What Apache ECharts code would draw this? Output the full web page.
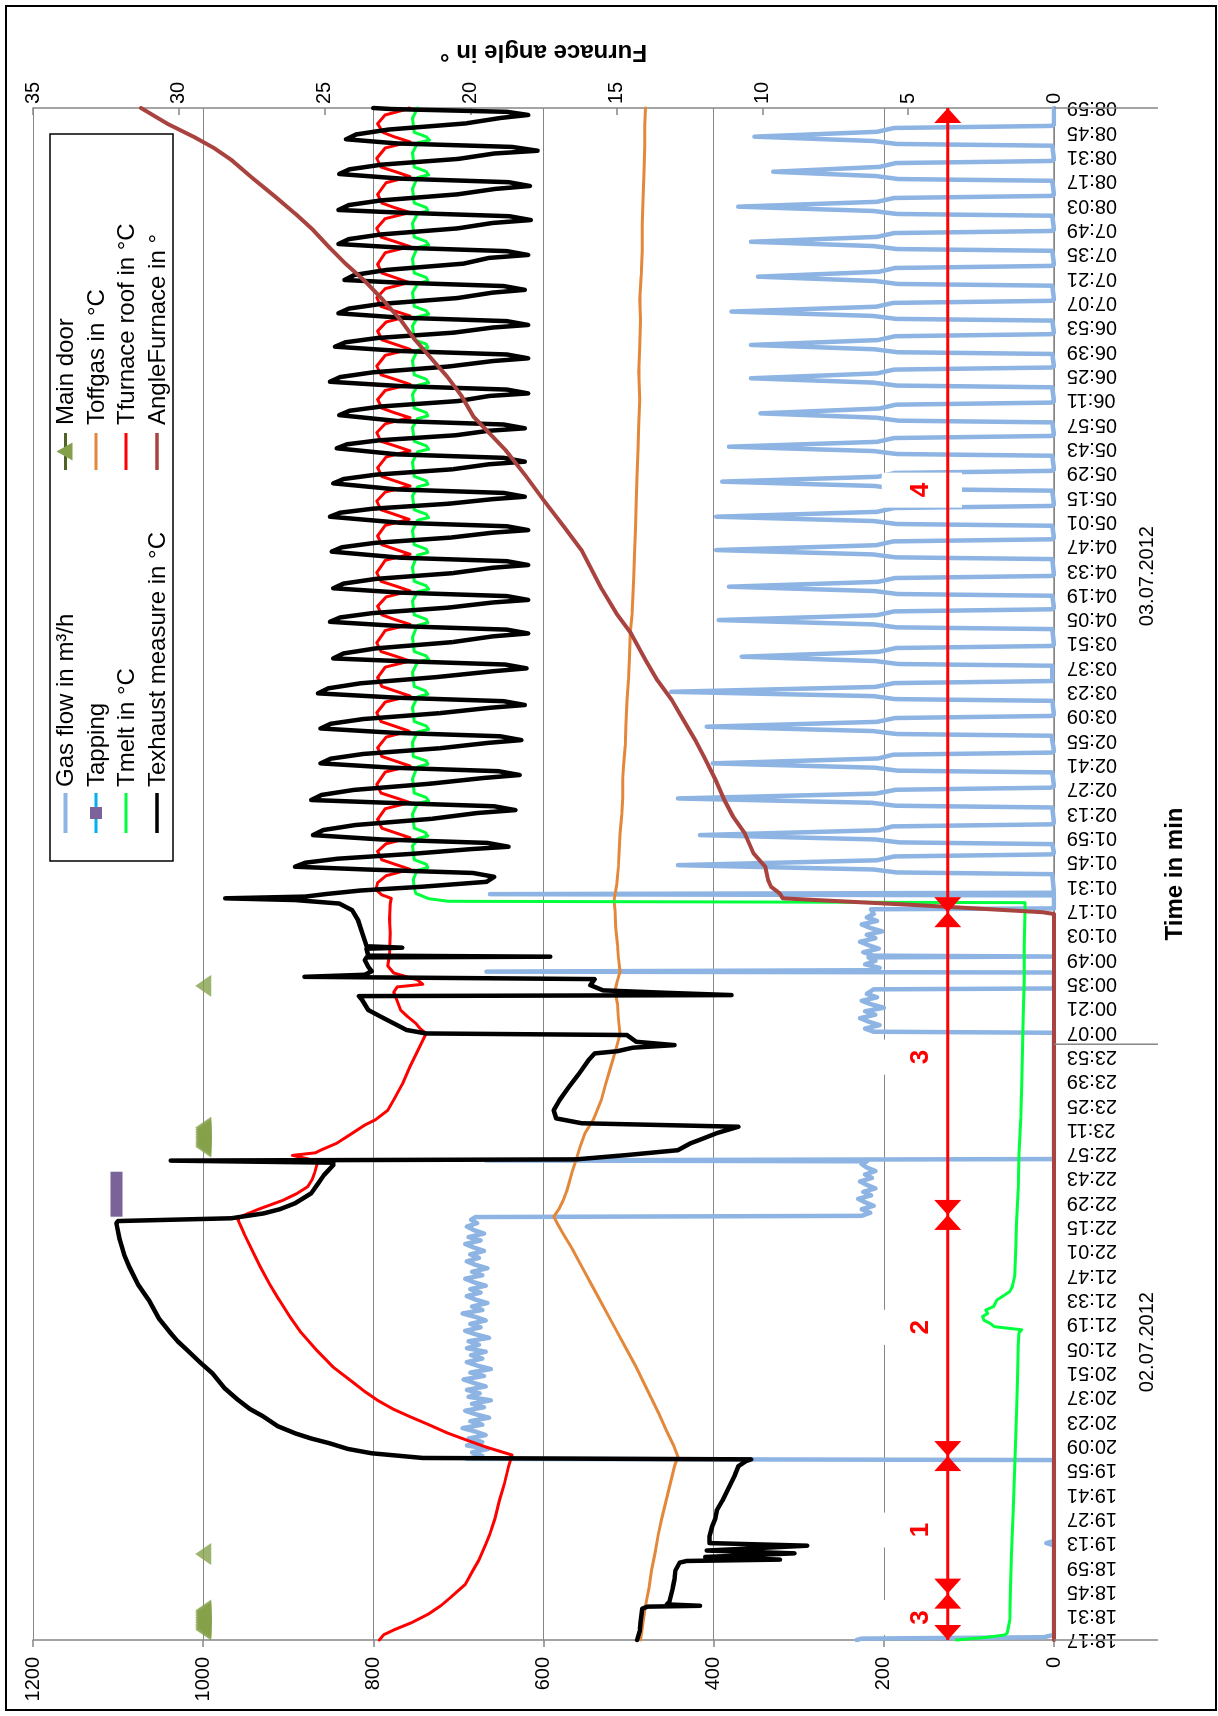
<!DOCTYPE html>
<html><head><meta charset="utf-8">
<script src="https://cdn.jsdelivr.net/npm/echarts/dist/echarts.min.js"></script>
<style>
html,body{margin:0;padding:0;background:#fff;width:1218px;height:1716px;overflow:hidden}
#chart{position:absolute;left:0;top:0;width:1716px;height:1218px;transform-origin:0 0;transform:translate(0px,1716px) rotate(-90deg);}
</style></head>
<body><div id="chart"></div>
<script>
const timeLabels = ['18:17','18:31','18:45','18:59','19:13','19:27','19:41','19:55','20:09','20:23','20:37','20:51','21:05','21:19','21:33','21:47','22:01','22:15','22:29','22:43','22:57','23:11','23:25','23:39','23:53','00:07','00:21','00:35','00:49','01:03','01:17','01:31','01:45','01:59','02:13','02:27','02:41','02:55','03:09','03:23','03:37','03:51','04:05','04:19','04:33','04:47','05:01','05:15','05:29','05:43','05:57','06:11','06:25','06:39','06:53','07:07','07:21','07:35','07:49','08:03','08:17','08:31','08:45','08:59'];
const valueTicks = [0, 200, 400, 600, 800, 1000, 1200];
const angleTicks = [0, 5, 10, 15, 20, 25, 30, 35];

// time in minutes after 18:17
const gasFlow = [[0,232],[0.8,226],[1.6,12],[3,0],[54.5,0],[55.8,9],[57,0],[103.6,0],[104.3,690],[106,672],[108,684],[110,665],[112,690],[114,672],[116,688],[118,668],[120,680],[122,695],[124,672],[126,686],[128,664],[130,680],[132,692],[134,670],[136,684],[138,662],[140,688],[142,675],[144,690],[146,668],[148,682],[150,694],[152,670],[154,686],[156,662],[158,678],[160,690],[162,672],[164,685],[166,668],[168,690],[170,676],[172,688],[174,664],[176,680],[178,692],[180,674],[182,686],[184,668],[186,680],[188,695],[190,672],[192,684],[194,666],[196,680],[198,690],[200,674],[202,686],[204,668],[206,682],[208,692],[210,672],[212,684],[214,666],[216,680],[218,690],[220,676],[222,686],[224,670],[226,682],[228,692],[230,674],[232,688],[234,670],[236,682],[238,690],[240,678],[242,685],[243.5,680],[244.2,226],[246,216],[248,226],[250,212],[252,222],[254,230],[256,215],[258,224],[260,210],[262,220],[264,228],[266,214],[268,222],[270,210],[272,220],[274,226],[275.6,220],[276.1,668],[276.9,0],[349.6,0],[350.2,212],[352,222],[354,205],[356,218],[358,228],[360,210],[362,222],[364,200],[366,215],[368,226],[370,208],[372,220],[374.6,212],[375.1,0],[384.3,0],[384.8,667],[385.6,215],[387,205],[389,222],[391,210],[393,218],[393.5,0],[394,212],[396,224],[398,206],[400,218],[402,228],[404,210],[406,220],[408,202],[410,216],[412,226],[414,208],[416,220],[418,212],[420.7,215],[421.2,0],[428.7,0],[429.4,663],[430.2,0],
[440.9,2],[441.9,185],[443.6,212],[446.1,442],[448.9,208],[451.1,188],[452.3,3],[453.1,0],
[458.2,2],[459.2,182],[460.9,210],[463.4,416],[466.2,206],[468.4,190],[469.6,3],[470.4,0],
[479.3,2],[480.3,186],[482,214],[484.5,442],[487.3,209],[489.5,186],[490.7,4],[491.5,0],
[499.5,2],[500.5,184],[502.2,211],[504.7,401],[507.5,207],[509.7,189],[510.9,3],[511.7,0],
[520.6,3],[521.6,185],[523.3,213],[525.8,408],[528.6,208],[530.8,187],[532,3],[532.8,0],
[540.7,2],[541.7,187],[543.4,212],[545.9,450],[548.7,210],[550.9,188],[552.1,2],[552.9,0],
[560.9,2],[561.9,183],[563.6,210],[566.1,367],[568.9,206],[571.1,186],[572.3,3],[573.1,0],
[582,2],[583,185],[584.7,212],[587.2,394],[590,208],[592.2,188],[593.4,3],[594.2,0],
[601.2,2],[602.2,184],[603.9,211],[606.4,382],[609.2,207],[611.4,187],[612.6,3],[613.4,0],
[622.3,2],[623.3,186],[625,213],[627.5,397],[630.3,209],[632.5,189],[633.7,3],[634.5,0],
[641.5,2],[642.5,185],[644.2,212],[646.7,397],[649.5,208],[651.7,188],[652.9,3],[653.7,0],
[661.7,2],[662.7,184],[664.4,211],[666.9,390],[669.7,207],[671.9,187],[673.1,3],[673.9,0],
[681.8,2],[682.8,185],[684.5,212],[687,382],[689.8,208],[692,188],[693.2,3],[694,0],
[701,2],[702,183],[703.7,209],[706.2,345],[709,205],[711.2,186],[712.4,3],[713.2,0],
[721.2,2],[722.2,185],[723.9,212],[726.4,356],[729.2,208],[731.4,188],[732.6,3],[733.4,0],
[740.4,2],[741.4,184],[743.1,211],[745.6,356],[748.4,207],[750.6,187],[751.8,3],[752.6,0],
[759.6,2],[760.6,186],[762.3,213],[764.8,379],[767.6,209],[769.8,189],[771,3],[771.8,0],
[779.7,2],[780.7,184],[782.4,210],[784.9,348],[787.7,206],[789.9,187],[791.1,3],[791.9,0],
[799.8,2],[800.8,185],[802.5,212],[805,356],[807.8,208],[810,188],[811.2,3],[812,0],
[820,2],[821,185],[822.7,212],[825.2,371],[828,208],[830.2,188],[831.4,3],[832.2,0],
[840.1,2],[841.1,183],[842.8,209],[845.3,330],[848.1,205],[850.3,186],[851.5,3],[852.3,0],
[860.3,2],[861.3,185],[863,212],[865.5,352],[868.3,208],[870.5,188],[871.7,3],[872.5,0],[882,0]];

const tapping = [[243.7,1102],[269.6,1102]];

const tmelt = [[0,115],[1.5,80],[2.9,58],[4,55],[11.5,52],[30,51],[50,50],[75,48],[100,46],[130,44],[150,43],[170,42],[177,41],[178.6,38],[180.4,70],[182.3,75],[184,82],[186.2,84],[188,78],[190,80],[192,71],[194,69],[195.8,67],[198,60],[200.6,52],[203.4,49],[210,46],[225,45],[240,44],[260,42],[280,41],[300,39],[320,38],[340,37],[360,36],[380,35],[400,35],[420,34],[424.5,34],[425.3,712],[426.8,735],[429.8,750],[433,752],[438,753],[441.5,750],
[443.2,748],[444.7,736],[446.7,738],[449.2,752],[457.2,754],[459.4,750],
[461.4,748],[462.9,736],[464.9,739],[467.4,752],[475.4,754],[479.6,750],
[481.6,748],[483.1,735],[485.1,738],[487.6,752],[495.6,754],[500.7,750],
[502.7,748],[504.2,736],[506.2,738],[508.7,753],[516.7,754],[520.8,750],
[522.8,748],[524.3,735],[526.3,738],[528.8,752],[536.8,754],[541,750],
[543,748],[544.5,736],[546.5,739],[549,752],[557,754],[561.1,750],
[563.1,748],[564.6,735],[566.6,738],[569.1,752],[577.1,754],[582.2,750],
[584.2,748],[585.7,736],[587.7,738],[590.2,752],[598.2,754],[601.5,750],
[603.5,748],[605,735],[607,738],[609.5,752],[617.5,754],[622.6,750],
[624.6,748],[626.1,736],[628.1,738],[630.6,752],[638.6,754],[642.7,750],
[644.7,748],[646.2,735],[648.2,738],[650.7,752],[658.7,754],[661.9,750],
[663.9,748],[665.4,736],[667.4,738],[669.9,752],[677.9,754],[682.1,750],
[684.1,748],[685.6,735],[687.6,738],[690.1,752],[698.1,754],[701.2,750],
[703.2,748],[704.7,736],[706.7,738],[709.2,752],[717.2,754],[720.4,750],
[722.4,748],[723.9,735],[725.9,738],[728.4,752],[736.4,754],[740.6,750],
[742.6,748],[744.1,736],[746.1,738],[748.6,752],[756.6,754],[759.8,750],
[761.8,748],[763.3,735],[765.3,738],[767.8,752],[775.8,754],[779,750],
[781,748],[782.5,736],[784.5,738],[787,752],[795,754],[799.7,750],
[801.7,748],[803.2,735],[805.2,738],[807.7,752],[815.7,754],[819.3,750],
[821.3,748],[822.8,736],[824.8,738],[827.3,752],[835.3,754],[840,750],
[842,748],[843.5,735],[845.5,738],[848,752],[856,754],[860,750],
[862,748],[863.5,734],[865.5,738],[868,752],[876,754],[880,750],[882,748]];

const texhaust = [[0,490],[5,487],[10,486],[18,484],[19.2,478],[19.7,416],[20.5,455],[22,452],[26,450],[30,448],[35,446],[40,445],[44.5,440],[45.5,432],[46.3,322],[47.8,410],[49.9,305],[51.5,408],[54.3,290],[55.8,405],[59.5,405],[65,402],[70,398],[75,396],[80,390],[85,385],[90,380],[95,375],[100,371],[103,362],[104,356],[104.8,742],[107.5,802],[110,830],[113.2,851],[116,873],[119,892],[123,912],[128.6,929],[133,945],[138.2,959],[145,975],[153.5,989],[160,1004],[167,1019],[172,1030],[176.6,1038],[185,1052],[195.8,1064],[205,1077],[215,1087],[222,1093],[230.3,1098],[239.9,1102],[241.2,1100],[242.8,967],[245.6,929],[248,910],[251.4,892],[257.2,873],[262,866],[267.7,858],[273.5,847],[274.8,847],[276,1038],[276.7,562],[279.2,502],[282,442],[286,427],[288.8,412],[291.7,397],[295.5,371],[297.5,555],[300.3,585],[305,588],[310.9,581],[318.5,570],[326.2,558],[333.9,547],[337.7,540],[339,513],[341,495],[342.5,446],[344.4,491],[348.3,502],[349.2,738],[351.2,761],[355,776],[358.8,791],[362.7,806],[368.4,813],[370.7,817],[371.3,379],[372.5,450],[374,530],[377,545],[380.5,540],[381.8,881],[383,810],[385,802],[387.6,806],[391.5,810],[393,808],[393.4,592],[394,806],[398,808],[398.6,766],[399.4,808],[406.8,813],[414.5,818],[420.2,825],[424,840],[426,892],[427,974],[428,880],[429.5,855],[431.5,815],[433.7,742],[436.5,667],[439.4,658],
[441.6,683],[443.6,808],[445.2,892],[447.5,880],[449.8,842],[452.7,752],[455.3,686],
[456.7,641],[458.9,666],[460.9,791],[463.4,871],[466.3,859],[469.2,821],[472.8,731],[476.1,678],
[477.8,633],[480.0,658],[482.0,783],[483.6,873],[486.5,861],[489.4,823],[493.0,733],[496.3,670],
[498.0,628],[500.2,653],[502.2,778],[504.7,862],[507.4,850],[510.1,812],[513.4,722],[516.5,665],
[518.1,626],[520.3,651],[522.3,776],[524.8,862],[527.5,850],[530.2,812],[533.6,722],[536.7,663],
[538.3,622],[540.5,647],[542.5,772],[545.0,865],[547.9,853],[550.8,815],[554.4,725],[557.7,660],
[559.4,620],[561.6,645],[563.6,770],[565.1,847],[568.0,835],[570.9,797],[574.5,707],[577.8,660],
[579.5,618],[581.7,643],[583.7,768],[586.2,851],[588.7,839],[591.2,801],[594.4,711],[597.3,660],
[598.8,618],[601.0,643],[603.0,768],[605.5,847],[608.2,835],[610.9,797],[614.2,707],[617.3,660],
[618.9,618],[621.1,643],[623.1,768],[626.6,849],[629.1,837],[631.6,799],[634.7,709],[637.5,660],
[639.0,618],[641.2,643],[643.2,768],[646.7,851],[649.0,839],[651.3,801],[654.2,711],[656.8,660],
[658.2,622],[660.4,647],[662.4,772],[665.9,847],[668.4,835],[670.9,797],[674.0,707],[676.9,664],
[678.4,622],[680.6,647],[682.6,772],[686.1,843],[688.4,831],[690.7,793],[693.6,703],[696.2,664],
[697.6,622],[699.8,647],[701.8,772],[705.2,840],[707.7,828],[710.2,790],[713.3,700],[716.2,664],
[717.7,618],[719.9,643],[721.9,768],[724.4,851],[727.1,839],[729.8,801],[733.2,711],[736.3,660],
[737.9,618],[740.1,643],[742.1,768],[744.6,845],[747.1,833],[749.6,795],[752.7,705],[755.6,660],
[757.1,618],[759.3,643],[761.3,768],[763.8,841],[766.5,829],[769.2,791],[772.6,701],[775.7,660],
[777.3,622],[779.5,647],[781.5,772],[783.0,834],[785.9,822],[788.8,784],[792.4,694],[795.7,664],
[797.4,618],[799.6,643],[801.6,768],[803.7,841],[806.5,829],[809.2,791],[812.7,701],[815.8,660],
[817.5,615],[819.7,640],[821.7,765],[823.3,841],[826.1,829],[828.8,791],[832.3,701],[835.4,657],
[837.1,616],[839.3,641],[841.3,766],[844.0,840],[846.7,828],[849.4,790],[852.7,700],[855.8,658],
[857.4,607],[859.6,637],[861.6,772],[864.0,832],[866.8,820],[869.6,782],[873.1,692],[876.3,650],
[878.0,618],[879.8,643],[881.4,779],[882,800]];

const mainDoor = [[6,1000],[7,1000],[8,1000],[9,1000],[10,1000],[11,1000],[12,1000],[13,1000],[14,1000],[15,1000],[16,1000],[17,1000],[49.5,1000],[284,1000],[285,1000],[286,1000],[287,1000],[288,1000],[289,1000],[290,1000],[291,1000],[292,1000],[293,1000],[294,1000],[295,1000],[376.6,1000]];

const toffgas = [[0,486],[10,483],[20,480],[30,476],[40,473],[50,469],[61,465],[70,461],[80,456],[90,451],[100,446],[105.6,442],[112,447],[120,455],[130,464],[138,472],[148,482],[158,492],[167,502],[177,513],[186,523],[196,534],[205,544],[215,555],[225,566],[234,577],[240,584],[243.7,588],[248,582],[253,577],[258,573],[263,570],[270,566],[276,562],[284,557],[292,551],[300,541],[306,536],[311,532],[320,527],[330,521],[340,515],[349,510],[358,512],[366,513],[374,516],[378,514],[385,510],[393,512],[400,513],[410,515],[420,516],[426,517],[435,514],[445,512],[455,511],[464,510],[475,508],[485,507],[495,507],[503,506],[515,504],[528,503],[541,502],[553,500],[566,499],[580,498],[590,496],[599,495],[612,494],[625,493],[640,492],[656,491],[670,490],[685,489],[700,488],[714,487],[730,488],[745,487],[760,486],[772,487],[786,485],[800,484],[815,484],[829,483],[845,482],[860,481],[872,481],[882,480]];

const tfurnaceRoof = [[0,793],[3,788],[6,775],[10,755],[15,735],[20,720],[25,708],[32,692],[40,683],[46,676],[55,668],[61,663],[70,657],[80,652],[90,646],[100,641],[106.5,637],[111,667],[115,690],[119,712],[124,735],[128.6,757],[133,777],[138,795],[143,810],[148,823],[157,847],[167,867],[177,885],[186,898],[196,911],[205,922],[215,933],[225,943],[234,952],[243,960],[248,935],[253,907],[257,890],[261,877],[265,872],[269,869],[274,866],[276,868],[279,895],[280.5,868],[282,862],[286,843],[291.7,825],[296.5,810],[299.4,798],[305,783],[311,776],[320,766],[330,757],[340,747],[349.2,738],[352,745],[355,750],[359,760],[362.7,768],[368,772],[373,776],[376,772],[377.5,742],[380,748],[384,776],[388,783],[395,781],[407,780],[415,781],[424,780],[427,779],[429,790],[432,797],[436,795],[440,785],[443.7,757],
[446.7,775],[449.2,790],[454,795],[458.4,785],[461.9,757],
[464.9,775],[467.4,790],[472.4,795],[478.6,786],[482.1,757],
[485.1,775],[487.6,791],[492.6,796],[499.7,786],[503.2,757],
[506.2,775],[508.7,790],[513.7,795],[519.8,785],[523.3,758],
[526.3,776],[528.8,791],[533.8,796],[540,786],[543.5,757],
[546.5,775],[549,790],[554,795],[560.1,786],[563.6,757],
[566.6,775],[569.1,791],[574.1,796],[581.2,786],[584.7,757],
[587.7,776],[590.2,790],[595.2,795],[600.5,785],[604,757],
[607,775],[609.5,791],[614.5,796],[621.6,786],[625.1,757],
[628.1,775],[630.6,790],[635.6,795],[641.7,786],[645.2,758],
[648.2,776],[650.7,791],[655.7,796],[660.9,786],[664.4,757],
[667.4,775],[669.9,790],[674.9,795],[681.1,785],[684.6,757],
[687.6,775],[690.1,791],[695.1,796],[700.2,786],[703.7,757],
[706.7,776],[709.2,790],[714.2,795],[719.4,786],[722.9,757],
[725.9,775],[728.4,791],[733.4,796],[739.6,786],[743.1,757],
[746.1,775],[748.6,790],[753.6,795],[758.8,785],[762.3,757],
[765.3,776],[767.8,791],[772.8,796],[778,786],[781.5,758],
[784.5,775],[787,790],[792,795],[798.7,786],[802.2,757],
[805.2,775],[807.7,791],[812.7,796],[818.3,786],[821.8,757],
[824.8,776],[827.3,790],[832.3,795],[839,785],[842.5,757],
[845.5,775],[848,791],[853,796],[859,786],[862.5,757],
[865.5,776],[868,789],[873,795],[878,786],[881.8,757],[882,758]];

const angleFurnace = [[0,0],[418,0],[419,0.4],[423,4.6],[427,9.3],[429.8,9.4],[433.7,9.7],[437.5,9.8],[445.2,9.9],[452.9,10.3],[464.4,10.6],[474,11.0],[483.6,11.3],[495.1,11.6],[508.5,12.0],[518.1,12.3],[529.6,12.7],[541.1,13.1],[552.6,13.6],[564.2,14.0],[579.5,14.5],[591,15.0],[605,15.5],[627.5,16.2],[641,16.8],[656.3,17.5],[670,18.1],[685,18.8],[704.3,19.9],[716,20.3],[727.3,20.8],[748.4,21.9],[760,22.4],[771.5,23.0],[782,23.6],[792.6,24.3],[801,24.8],[811.8,25.4],[821,26.0],[831,26.7],[842,27.5],[852.1,28.2],[859,28.8],[865.5,29.5],[873,30.4],[882,31.3]];

const phaseBounds = [0, 26.7, 105.9, 244.7, 419, 882];
const phaseNames = ['3', '1', '2', '3', '4'];
const phaseLabelTimes = [13, 63.3, 180, 335.6, 662];
const arrowLevel = 125;
const dayBreaks = [0, 343, 882];
const dayNames = ['02.07.2012', '03.07.2012'];

const FONT = '"Liberation Sans", Arial, sans-serif';
const C = {gas:'#8DB4E2', tap:'#7A6399', tapLine:'#00B0F0', melt:'#00FF3C', exh:'#000000', door:'#84A14A', off:'#E3883A', roof:'#FF0000', angle:'#A8433F', axis:'#868686'};

const chart = echarts.init(document.getElementById('chart'), null, {renderer:'canvas', width:1716, height:1218});
const lineS = (name, data, color, width, yAxisIndex) => ({name, type:'line', data, yAxisIndex: yAxisIndex||0, symbol:'none', showSymbol:false, clip:true, lineStyle:{color, width, cap:'round', join:'round'}, itemStyle:{color}, emphasis:{disabled:true}});
const option = {
  animation:false,
  backgroundColor:'#ffffff',
  grid:{left:76, right:108, top:33, bottom:164},
  xAxis:{type:'value', min:0, max:882, interval:14,
    axisLine:{show:true, onZero:false, lineStyle:{color:C.axis, width:1.5}},
    axisTick:{show:false},
    axisLabel:{rotate:90, margin:13, fontSize:20, color:'#000', fontFamily:FONT, formatter:v => timeLabels[Math.round(v/14)] || ''},
    splitLine:{show:false}},
  yAxis:[
    {type:'value', min:valueTicks[0], max:valueTicks[valueTicks.length-1], interval:200, position:'left',
     axisLine:{show:true, lineStyle:{color:C.axis, width:1.5}},
     axisTick:{show:true, length:7, lineStyle:{color:C.axis, width:1.5}},
     axisLabel:{margin:17, fontSize:20, color:'#000', fontFamily:FONT, formatter:v => String(valueTicks[Math.round(v/200)])},
     splitLine:{show:true, lineStyle:{color:C.axis, width:1}}},
    {type:'value', min:angleTicks[0], max:angleTicks[angleTicks.length-1], interval:5, position:'right',
     axisLine:{show:true, lineStyle:{color:C.axis, width:1.5}},
     axisTick:{show:true, inside:true, length:7, lineStyle:{color:C.axis, width:1.5}},
     axisLabel:{margin:4, fontSize:20, color:'#000', fontFamily:FONT, formatter:v => String(angleTicks[Math.round(v/5)])},
     splitLine:{show:false}}
  ],
  series:[
    lineS('Gas flow in m³/h', gasFlow, C.gas, 4.5),
    {name:'Main door', type:'scatter', data:mainDoor, symbol:'triangle', symbolSize:[22,16], itemStyle:{color:C.door}, emphasis:{disabled:true}},
    Object.assign(lineS('Tapping', tapping, C.tap, 12), {lineStyle:{color:C.tap, width:12, cap:'butt'}}),
    lineS('Toffgas in °C', toffgas, C.off, 3),
    lineS('Tmelt in °C', tmelt, C.melt, 3),
    lineS('Tfurnace roof in °C', tfurnaceRoof, C.roof, 3),
    lineS('Texhaust measure in °C', texhaust, C.exh, 4.5),
    lineS('AngleFurnace in °', angleFurnace, C.angle, 4, 1)
  ]
};
chart.setOption(option);

const P = (t, v) => chart.convertToPixel({xAxisIndex:0, yAxisIndex:0}, [t, v]);
const g = [];
g.push({type:'rect', shape:{x:6, y:6, width:1704, height:1210}, style:{fill:'none', stroke:'#000', lineWidth:2}, z:100, silent:true});
const yAx = P(0, 0)[1];
dayBreaks.forEach(t => { const x = P(t, 0)[0]; g.push({type:'line', shape:{x1:x, y1:yAx, x2:x, y2:yAx + 104}, style:{stroke:C.axis, lineWidth:1.5}, z:10, silent:true}); });
for (let i = 0; i < dayNames.length; i++) {
  const x = (P(dayBreaks[i], 0)[0] + P(dayBreaks[i+1], 0)[0]) / 2;
  g.push({type:'text', x:x, y:yAx + 93, style:{text:dayNames[i], font:'20px ' + FONT, fill:'#000', align:'center', verticalAlign:'middle'}, z:10, silent:true});
}
g.push({type:'text', x:P(441, 0)[0], y:1175, style:{text:'Time in min', font:'bold 24px ' + FONT, fill:'#000', align:'center', verticalAlign:'middle'}, z:10, silent:true});
g.push({type:'text', x:1664, y:P(0, 600)[1], rotation:Math.PI/2, style:{text:'Furnace angle in °', font:'bold 24px ' + FONT, fill:'#000', align:'center', verticalAlign:'middle'}, z:10, silent:true});

// phase boxes and dimension arrows
const yTop = P(0, 200)[1] - 2, yBot = P(0, 108)[1];
phaseLabelTimes.forEach((t, i) => {
  const x = P(t, 0)[0];
  g.push({type:'rect', shape:{x:x - 17.5, y:yTop, width:35, height:yBot - yTop}, style:{fill:'#fff'}, z:50, silent:true});
  g.push({type:'text', x:x, y:P(0, 156)[1], style:{text:phaseNames[i], font:'bold 26px ' + FONT, fill:'#FF0000', align:'center', verticalAlign:'middle'}, z:61, silent:true});
});
const yA = P(0, arrowLevel)[1];
g.push({type:'line', shape:{x1:P(0, 0)[0], y1:yA, x2:P(882, 0)[0], y2:yA}, style:{stroke:'#FF0000', lineWidth:3}, z:60, silent:true});
for (let i = 0; i < phaseBounds.length - 1; i++) {
  const xa = P(phaseBounds[i], 0)[0], xb = P(phaseBounds[i+1], 0)[0];
  g.push({type:'polygon', shape:{points:[[xa, yA], [xa + 15, yA - 13.5], [xa + 15, yA + 13.5]]}, style:{fill:'#FF0000'}, z:60, silent:true});
  g.push({type:'polygon', shape:{points:[[xb, yA], [xb - 15, yA - 13.5], [xb - 15, yA + 13.5]]}, style:{fill:'#FF0000'}, z:60, silent:true});
}

// legend (drawn manually, two columns)
g.push({type:'rect', shape:{x:855, y:50, width:727, height:123}, style:{fill:'#fff', stroke:'#000', lineWidth:1.5}, z:70, silent:true});
const rows = [65.5, 96, 126, 157];
const legendItems = [
  {col:0, row:0, name:'Gas flow in m³/h', color:C.gas, w:4},
  {col:0, row:1, name:'Tapping', color:C.tapLine, w:3, marker:'square'},
  {col:0, row:2, name:'Tmelt in °C', color:C.melt, w:3},
  {col:0, row:3, name:'Texhaust measure in °C', color:C.exh, w:3.5},
  {col:1, row:0, name:'Main door', color:'#4F6228', w:3, marker:'triangle'},
  {col:1, row:1, name:'Toffgas in °C', color:C.off, w:3},
  {col:1, row:2, name:'Tfurnace roof in °C', color:C.roof, w:3},
  {col:1, row:3, name:'AngleFurnace in °', color:C.angle, w:3.5}
];
const colX = [[883, 923, 929], [1246, 1283, 1291]];
legendItems.forEach(it => {
  const [x0, x1, xt] = colX[it.col]; const y = rows[it.row];
  g.push({type:'line', shape:{x1:x0, y1:y, x2:x1, y2:y}, style:{stroke:it.color, lineWidth:it.w}, z:71, silent:true});
  const xm = (x0 + x1) / 2;
  if (it.marker === 'square') g.push({type:'rect', shape:{x:xm - 6, y:y - 6, width:12, height:12}, style:{fill:C.tap}, z:72, silent:true});
  if (it.marker === 'triangle') g.push({type:'polygon', shape:{points:[[xm, y - 9], [xm - 9, y + 7], [xm + 9, y + 7]]}, style:{fill:C.door}, z:72, silent:true});
  g.push({type:'text', x:xt, y:y + 1, style:{text:it.name, font:'24px ' + FONT, fill:'#000', align:'left', verticalAlign:'middle'}, z:72, silent:true});
});
chart.setOption({graphic:g});
</script>
</body></html>
